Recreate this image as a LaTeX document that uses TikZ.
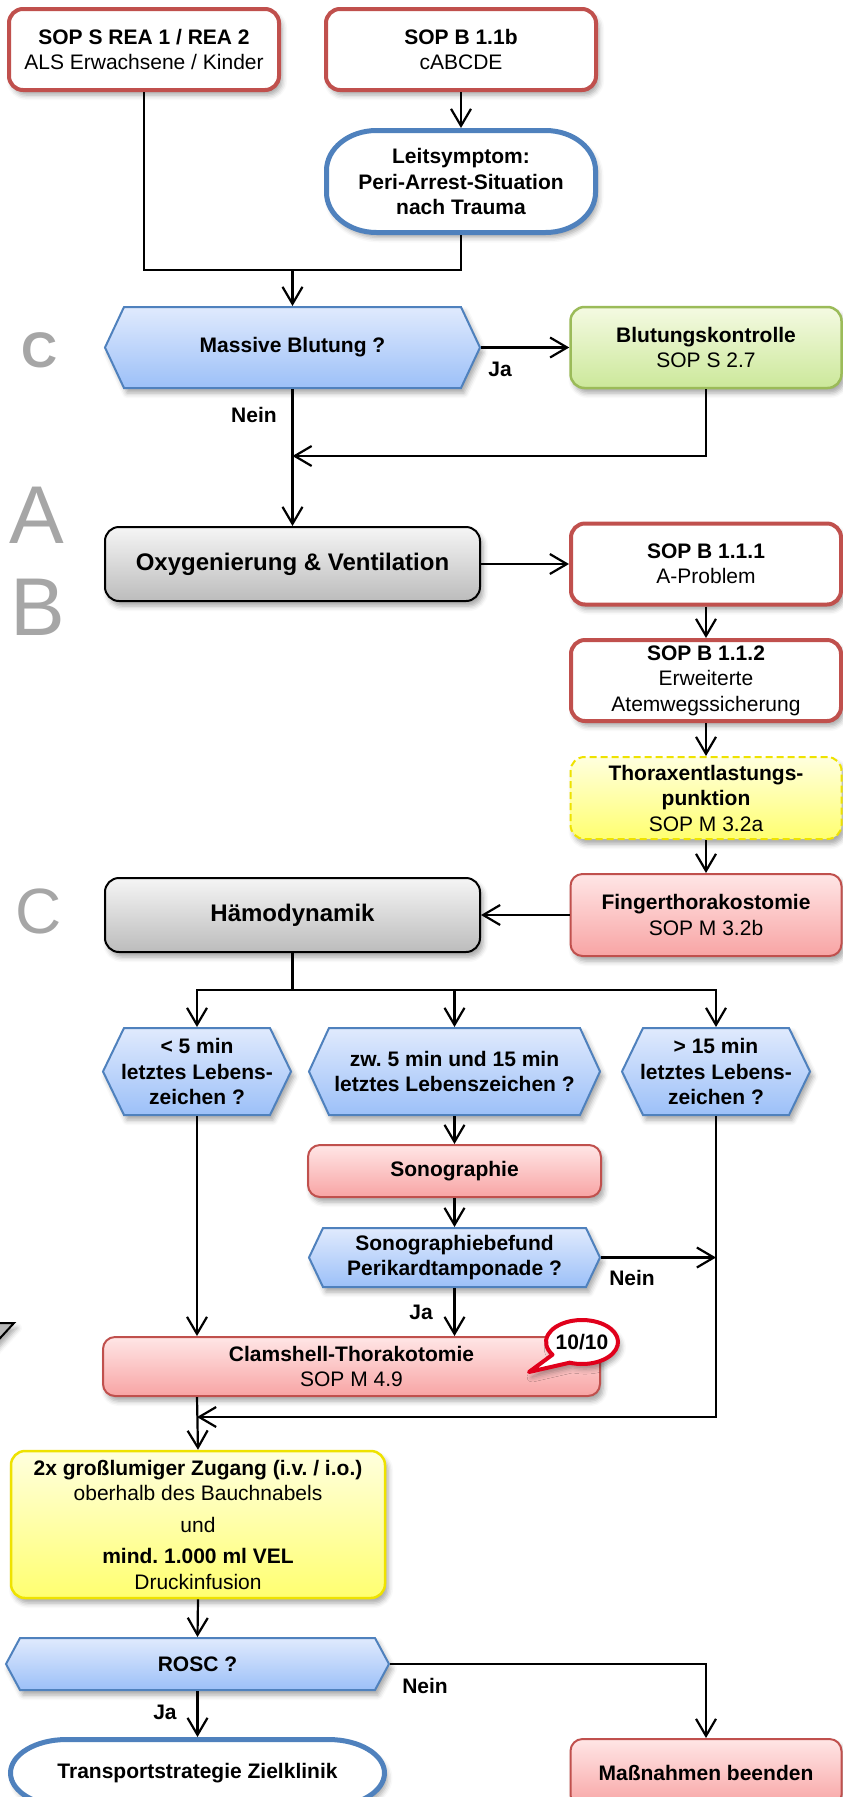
\documentclass[tikz,border=0pt]{standalone}
\usepackage{fontspec}
\setmainfont{Liberation Sans}
\usetikzlibrary{arrows.meta,shadows.blur,calc}

\definecolor{sopred}{RGB}{192,80,77}
\definecolor{flowblue}{RGB}{79,129,189}
\definecolor{hextop}{RGB}{224,234,253}
\definecolor{hexbot}{RGB}{156,192,248}
\definecolor{graytop}{RGB}{245,245,245}
\definecolor{graybot}{RGB}{188,188,188}
\definecolor{greentop}{RGB}{244,250,226}
\definecolor{greenbot}{RGB}{204,232,154}
\definecolor{greenline}{RGB}{155,187,89}
\definecolor{redtop}{RGB}{255,230,230}
\definecolor{redbot}{RGB}{248,164,164}
\definecolor{yeltop}{RGB}{255,255,222}
\definecolor{yelbot}{RGB}{255,255,112}
\definecolor{yelline}{RGB}{238,226,0}
\definecolor{letter}{RGB}{166,166,166}
\definecolor{badge}{RGB}{224,0,27}

\tikzset{
  txt/.style={font=\fontsize{21}{25.5}\selectfont, align=center, inner sep=0pt},
  btxt/.style={txt, font=\fontsize{21}{25.5}\selectfont\bfseries},
  dropshade/.style={blur shadow={shadow xshift=3pt, shadow yshift=-5pt, shadow blur radius=5pt, shadow opacity=35}},
  sopbox/.style={txt, draw=sopred, line width=4pt, fill=white, rounded corners=14pt, dropshade,
    minimum width=270pt, minimum height=81pt},
  actbox/.style={txt, draw=sopred, line width=2pt, rounded corners=12pt,
    top color=redtop, bottom color=redbot, dropshade},
  graybox/.style={txt, font=\fontsize{24}{28}\selectfont\bfseries, draw=black, line width=2pt, rounded corners=14pt,
    top color=graytop, bottom color=graybot, dropshade, minimum width=375pt, minimum height=74pt},
  greenbox/.style={txt, draw=greenline, line width=2.5pt, rounded corners=14pt,
    top color=greentop, bottom color=greenbot, dropshade, minimum width=271pt, minimum height=81pt},
  yelbox/.style={txt, draw=yelline, line width=2.5pt, rounded corners=14pt,
    top color=yeltop, bottom color=yelbot, dropshade},
  hexfill/.style={draw=flowblue, line width=2pt, top color=hextop, bottom color=hexbot, dropshade},
  pillfill/.style={draw=flowblue, line width=5pt, fill=white, dropshade},
  phase/.style={inner sep=0pt, text=letter},
  conn/.style={line width=2.2pt},
  arr/.style={conn, -{Straight Barb[length=17pt,width=20pt]}},
}

% decision hexagon: name, cx, cy, width, height, point depth, text
\newcommand{\hexbox}[7]{%
  \path[hexfill] ({#2-#4/2},#3) -- ({#2-#4/2+#6},{#3-#5/2}) -- ({#2+#4/2-#6},{#3-#5/2})
    -- ({#2+#4/2},#3) -- ({#2+#4/2-#6},{#3+#5/2}) -- ({#2-#4/2+#6},{#3+#5/2}) -- cycle;
  \node[btxt, minimum width=#4pt, minimum height=#5pt, outer sep=1pt] (#1) at (#2,#3) {#7};}

\begin{document}
\frenchspacing
\begin{tikzpicture}[x=1pt, y=-1pt]
\useasboundingbox (0,0) rectangle (843,1797);
\clip (0,0) rectangle (843,1797);

% phase letters
\node[phase, font=\fontsize{50}{50}\selectfont\bfseries] (phC) at (40,350) {C};
\node[phase, font=\fontsize{82}{82}\selectfont] (phA) at (37,515) {A};
\node[phase, font=\fontsize{82}{82}\selectfont] (phB) at (38,607) {B};
\node[phase, font=\fontsize{64}{64}\selectfont] (phCC) at (39,911) {C};

% small marker at the left edge
\filldraw[fill=black!28, draw=black, line width=2pt, dropshade] (-10,1323) -- (14,1323) -- (-10,1349) -- cycle;

% entry boxes
\node[sopbox] (rea) at (144,49.5) {\textbf{SOP S REA 1 / REA 2}\\ALS Erwachsene / Kinder};
\node[sopbox] (sopb) at (461,49.5) {\textbf{SOP B 1.1b}\\cABCDE};

% leading symptom
\path[pillfill] (376.5,130.5) -- (545.5,130.5) arc[start angle=90,end angle=0,x radius=50pt,y radius=40pt]
  -- (595.5,192.5) arc[start angle=0,end angle=-90,x radius=50pt,y radius=40pt]
  -- (376.5,232.5) arc[start angle=270,end angle=180,x radius=50pt,y radius=40pt]
  -- (326.5,170.5) arc[start angle=180,end angle=90,x radius=50pt,y radius=40pt] -- cycle;
\node[btxt, minimum width=269pt, minimum height=102pt, outer sep=2.5pt] (leit) at (461,181.5)
  {Leitsymptom:\\Peri-Arrest-Situation\\nach Trauma};

% C: bleeding
\hexbox{mb}{292.5}{347.5}{375}{81}{19}{Massive Blutung ?}
\node[greenbox] (blut) at (706,347.5) {\textbf{Blutungskontrolle}\\SOP S 2.7};

% A/B
\node[graybox] (oxy) at (292.5,564) {Oxygenierung \& Ventilation};
\node[sopbox] (sopA) at (706,564) {\textbf{SOP B 1.1.1}\\A-Problem};
\node[sopbox] (sopC) at (706,680.5) {\textbf{SOP B 1.1.2}\\Erweiterte\\Atemwegssicherung};
\node[yelbox, dashed, dash pattern=on 7pt off 4pt, line width=2pt, minimum width=271pt, minimum height=82pt]
  (thorax) at (706,798) {\textbf{Thoraxentlastungs-}\\\textbf{punktion}\\SOP M 3.2a};
\node[actbox, minimum width=271pt, minimum height=82pt] (finger) at (706,915)
  {\textbf{Fingerthorakostomie}\\SOP M 3.2b};

% C: circulation
\node[graybox] (haemo) at (292.5,915) {Hämodynamik};
\hexbox{hexA}{197}{1071.5}{188}{87}{21}{< 5 min\\letztes Lebens-\\zeichen ?}
\hexbox{hexB}{454.5}{1071.5}{291}{87}{20}{zw. 5 min und 15 min\\letztes Lebenszeichen ?}
\hexbox{hexC}{716}{1071.5}{188}{87}{21}{> 15 min\\letztes Lebens-\\zeichen ?}
\node[actbox, font=\fontsize{21}{25.5}\selectfont\bfseries, minimum width=293pt, minimum height=52pt]
  (sono) at (454.5,1171) {Sonographie};
\hexbox{sbef}{454.5}{1257.5}{291}{59}{14}{Sonographiebefund\\Perikardtamponade ?}
\node[actbox, minimum width=497pt, minimum height=59pt] (clam) at (351.5,1366.5)
  {\textbf{Clamshell-Thorakotomie}\\SOP M 4.9};

% 10/10 badge
\begin{scope}[shift={(582,1342)}, x=1pt, y=1pt]
  \draw[draw=badge, line width=4pt, fill=white, line join=round, dropshade]
    (-53,-30) -- (250:36 and 22) arc[start angle=250,end angle=575,x radius=36,y radius=22] -- cycle;
  \node[btxt] (badge) at (0,0) {10/10};
\end{scope}

% volume therapy
\node[yelbox, minimum width=374pt, minimum height=147pt] (prep) at (198,1524.5)
  {\textbf{2x großlumiger Zugang (i.v. / i.o.)}\\oberhalb des Bauchnabels\\[6pt]und\\[6pt]%
   \textbf{mind. 1.000 ml VEL}\\Druckinfusion};
\hexbox{rosc}{197.5}{1664}{383}{52}{14}{ROSC ?}

% outcomes
\path[pillfill] (66.5,1739.5) -- (328.5,1739.5) arc[start angle=90,end angle=-90,x radius=56pt,y radius=33.5pt]
  -- (66.5,1806.5) arc[start angle=270,end angle=90,x radius=56pt,y radius=33.5pt] -- cycle;
\node[btxt, minimum width=374pt, minimum height=67pt, outer sep=2.5pt] (transp) at (197.5,1773)
  {Transportstrategie Zielklinik};
\node[actbox, font=\fontsize{21}{25.5}\selectfont\bfseries, minimum width=271pt, minimum height=68pt]
  (stop) at (706,1773) {Maßnahmen beenden};

% junction points
\coordinate (j1) at (292.5,270);
\coordinate (j2) at (292.5,456);
\coordinate (j3) at (292.5,990);
\coordinate (j4) at (197,1417);

% connectors
\draw[conn] (rea.south) |- (j1) -| (leit.south);
\draw[arr] (sopb.south) -- (leit.north);
\draw[arr] (j1) -- (mb.north);
\draw[arr] (mb.east) -- (blut.west);
\draw[arr] (mb.south) -- (oxy.north);
\draw[arr] (blut.south) |- (j2);
\draw[arr] (oxy.east) -- (sopA.west);
\draw[arr] (sopA.south) -- (sopC.north);
\draw[arr] (sopC.south) -- (thorax.north);
\draw[arr] (thorax.south) -- (finger.north);
\draw[arr] (finger.west) -- (haemo.east);
\draw[conn] (haemo.south) -- (j3);
\draw[arr] (j3) -| (hexA.north);
\draw[arr] (j3) -| (hexC.north);
\draw[arr] (hexB.north |- j3) -- (hexB.north);
\draw[arr] (hexA.south) -- (hexA.south |- clam.north);
\draw[arr] (hexB.south) -- (sono.north);
\draw[arr] (sono.south) -- (sbef.north);
\draw[arr] (sbef.south) -- (sbef.south |- clam.north);
\draw[arr] (sbef.east) -- (sbef.east -| hexC.south);
\draw[arr] (hexC.south) |- (j4);
\draw[arr] (clam.south -| j4) -- (prep.north);
\draw[arr] (prep.south) -- (rosc.north);
\draw[arr] (rosc.east) -| (stop.north);
\draw[arr] (rosc.south) -- (transp.north);

% branch labels
\node[btxt] (jaA) at (500,369) {Ja};
\node[btxt] (neinA) at (254,415) {Nein};
\node[btxt] (neinB) at (632,1278) {Nein};
\node[btxt] (jaB) at (421,1312) {Ja};
\node[btxt] (neinC) at (425,1686) {Nein};
\node[btxt] (jaC) at (165,1712) {Ja};
\end{tikzpicture}
\end{document}
